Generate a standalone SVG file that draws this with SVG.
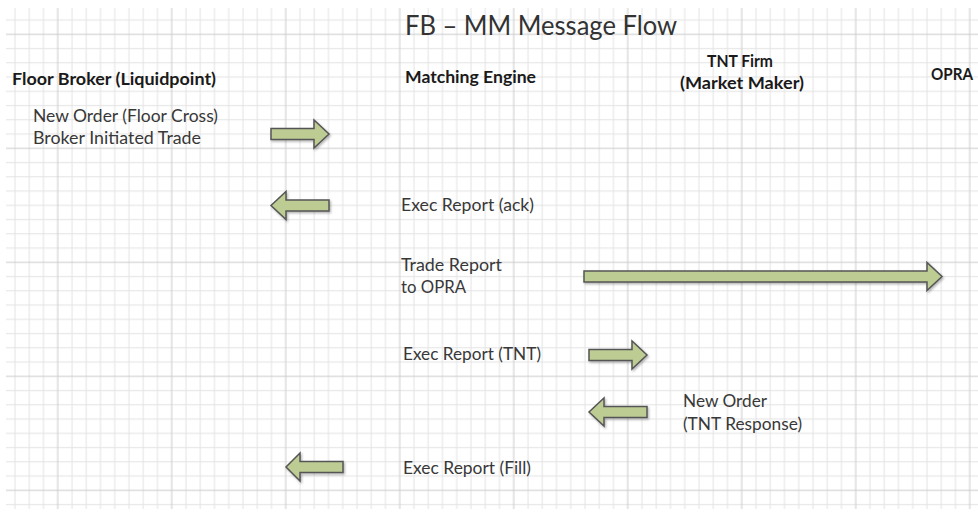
<svg xmlns="http://www.w3.org/2000/svg" width="978" height="514" viewBox="0 0 978 514">
  <style>
    .title { font-family: Lato, "Liberation Sans", sans-serif; font-size: 26px; fill: #333; }
    .head  { font-family: Lato, "Liberation Sans", sans-serif; font-size: 17px; font-weight: bold; fill: #1a1a1a; }
    .msg   { font-family: Lato, "Liberation Sans", sans-serif; font-size: 17.5px; fill: #383838; }
    .arrow { fill: #bdcc93; stroke: #555; stroke-width: 1.5; stroke-linejoin: miter; filter: url(#shadow); }
  </style>
  <defs>
    <!-- background grid: minor cells 14.25px, heavier line every 8 cells -->
    <pattern id="grid" patternUnits="userSpaceOnUse" x="-63.4" y="-86.8" width="114" height="114">
      <path d="M21.375 0V114M35.625 0V114M49.875 0V114M64.125 0V114M78.375 0V114M92.625 0V114M106.875 0V114
               M0 21.375H114M0 35.625H114M0 49.875H114M0 64.125H114M0 78.375H114M0 92.625H114M0 106.875H114"
            stroke="#e3e3e3" stroke-width="1" fill="none"/>
      <path d="M7.125 0V114M0 7.125H114" stroke="#cbcbcb" stroke-width="1" fill="none"/>
    </pattern>
    <filter id="shadow" x="-10%" y="-30%" width="130%" height="180%">
      <feDropShadow dx="1.2" dy="1.5" stdDeviation="0.8" flood-color="#000" flood-opacity="0.3"/>
    </filter>
  </defs>

  <rect width="978" height="514" fill="#fff"/>
  <rect x="6" y="8" width="972" height="501" fill="url(#grid)"/>

  <text class="title" x="405" y="35" textLength="272" lengthAdjust="spacingAndGlyphs">FB – MM Message Flow</text>

  <g id="floor-broker">
    <text class="head" x="12" y="85" textLength="204" lengthAdjust="spacingAndGlyphs">Floor Broker (Liquidpoint)</text>
  </g>
  <g id="matching-engine">
    <text class="head" x="405" y="83" textLength="131" lengthAdjust="spacingAndGlyphs">Matching Engine</text>
  </g>
  <g id="tnt-firm">
    <text class="head" x="707" y="67" textLength="66" lengthAdjust="spacingAndGlyphs">TNT Firm</text>
    <text class="head" x="680" y="89" textLength="124" lengthAdjust="spacingAndGlyphs">(Market Maker)</text>
  </g>
  <g id="opra">
    <text class="head" x="931" y="80" textLength="42" lengthAdjust="spacingAndGlyphs">OPRA</text>
  </g>

  <g id="messages">
    <text class="msg" x="33" y="122" textLength="185" lengthAdjust="spacingAndGlyphs">New Order (Floor Cross)</text>
    <text class="msg" x="33" y="144" textLength="168" lengthAdjust="spacingAndGlyphs">Broker Initiated Trade</text>
    <text class="msg" x="401" y="211" textLength="133" lengthAdjust="spacingAndGlyphs">Exec Report (ack)</text>
    <text class="msg" x="401" y="271" textLength="101" lengthAdjust="spacingAndGlyphs">Trade Report</text>
    <text class="msg" x="401" y="293" textLength="65" lengthAdjust="spacingAndGlyphs">to OPRA</text>
    <text class="msg" x="403" y="360" textLength="138" lengthAdjust="spacingAndGlyphs">Exec Report (TNT)</text>
    <text class="msg" x="683" y="407" textLength="84" lengthAdjust="spacingAndGlyphs">New Order</text>
    <text class="msg" x="683" y="430" textLength="119" lengthAdjust="spacingAndGlyphs">(TNT Response)</text>
    <text class="msg" x="403" y="474" textLength="128" lengthAdjust="spacingAndGlyphs">Exec Report (Fill)</text>
  </g>

  <g id="connectors">
    <!-- new order: broker to engine -->
    <path class="arrow" d="M271 128.5H314V120L329 134L314 148V139.5H271Z"/>
    <!-- ack back to broker -->
    <path class="arrow" d="M329 200H286V191.5L271 205.5L286 219.5V211H329Z"/>
    <!-- trade report out to OPRA -->
    <path class="arrow" d="M584 271H927V262.5L942 276.5L927 290.5V282H584Z"/>
    <!-- exec report to TNT firm -->
    <path class="arrow" d="M589 349.5H632V341L647 355L632 369V360.5H589Z"/>
    <!-- TNT response back to engine -->
    <path class="arrow" d="M647 406.5H604V398L589 412L604 426V417.5H647Z"/>
    <!-- fill back to broker -->
    <path class="arrow" d="M343 461.5H300V453L286 467L300 481V472.5H343Z"/>
  </g>
</svg>
